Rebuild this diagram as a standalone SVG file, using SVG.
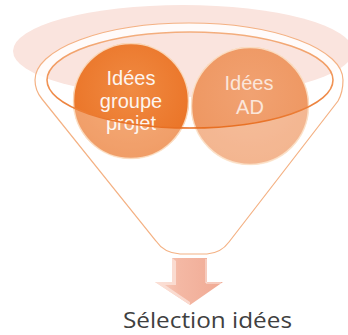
<svg xmlns="http://www.w3.org/2000/svg" width="348" height="335" viewBox="0 0 348 335">
  <defs>
    <radialGradient id="g1" cx="0.5" cy="0.4" r="0.6">
      <stop offset="0" stop-color="#F08A42"/>
      <stop offset="1" stop-color="#EA7326"/>
    </radialGradient>
    <radialGradient id="g2" cx="0.5" cy="0.4" r="0.6">
      <stop offset="0" stop-color="#F1A272"/>
      <stop offset="1" stop-color="#EE9660"/>
    </radialGradient>
    <linearGradient id="rimStroke" x1="0" y1="0" x2="0" y2="1">
      <stop offset="0" stop-color="#F3AE7E"/>
      <stop offset="0.6" stop-color="#F09050"/>
      <stop offset="1" stop-color="#E86F22"/>
    </linearGradient>
    <linearGradient id="arrowFill" x1="0" y1="0" x2="1" y2="0">
      <stop offset="0" stop-color="#F8D2C4"/>
      <stop offset="0.35" stop-color="#F4B8A4"/>
      <stop offset="1" stop-color="#F0AA94"/>
    </linearGradient>
    <style>
      .circle-text { font-family: "Liberation Sans", Arial, sans-serif; font-size: 20px; fill: #FFFFFF; text-anchor: middle; }
      .outline { fill: none; stroke: #F4B183; stroke-width: 1.2; }
      .glow { fill: none; stroke: #FDE8D2; stroke-width: 1.5; opacity: 0.8; }
      .label { font-family: "Open Sans", "Liberation Sans", sans-serif; font-size: 21px; fill: #404040; }
    </style>
  </defs>

  <!-- pale background ellipse -->
  <ellipse cx="183" cy="51" rx="170" ry="46" fill="#FAE4DE"/>

  <!-- funnel body behind circles (white, hides pink outside inner ellipse) -->
  <g id="funnel">
    <path fill="#FFFFFF" fill-opacity="0.85" fill-rule="evenodd"
      d="M35,80 C35,88 37,93 42,99 L156,241 Q164,253 180,254 L207,254 Q221,253 229,242 L338,101 C342,94 343,88 343,80 A154 57 0 0 0 35 80 Z
         M47,80 A143 48 0 0 1 333 80 A143 48 0 0 1 47 80 Z"/>
  </g>

  <g id="node-groupe-projet">
    <circle cx="131" cy="101" r="58" fill="url(#g1)"/>
  </g>
  <g id="node-ad">
    <circle cx="250" cy="106" r="59" fill="url(#g2)"/>
  </g>

  <!-- front translucent part of funnel over circles -->
  <path fill="#FFFFFF" fill-opacity="0.3"
    d="M35,80 C35,88 37,93 42,99 L156,241 Q164,253 180,254 L207,254 Q221,253 229,242 L338,101 C342,94 343,88 343,80 L333,80 A143 48 0 0 1 47 80 Z"/>

  <!-- circle edge highlights -->
  <circle class="glow" cx="131" cy="101" r="57.5"/>
  <circle class="glow" cx="250" cy="106" r="58.5"/>

  <!-- texts -->
  <g opacity="0.92">
    <text class="circle-text" x="131" y="85">Idées</text>
    <text class="circle-text" x="131" y="108">groupe</text>
    <text class="circle-text" x="131" y="130">projet</text>
  </g>
  <g opacity="0.75">
    <text class="circle-text" x="249" y="90">Idées</text>
    <text class="circle-text" x="250" y="114">AD</text>
  </g>

  <!-- funnel outlines -->
  <path class="outline" d="M35,80 C35,88 37,93 42,99 L156,241 Q164,253 180,254 L207,254 Q221,253 229,242 L338,101 C342,94 343,88 343,80 A154 57 0 0 0 35 80 Z"/>
  <ellipse cx="190" cy="80" rx="143" ry="48" fill="none" stroke="url(#rimStroke)" stroke-width="1.6"/>

  <g id="connectors">
    <path fill="url(#arrowFill)" d="M172,258 L207,258 L207,282 L223,282 L190,305 L155,282 L172,282 Z"/>
    <path fill="#FBE2DA" opacity="0.8" d="M172,258 L176,261 L176,285 L165,285 L190,302 L190,305 L155,282 L172,282 Z"/>
    <path fill="none" stroke="#FFFFFF" stroke-opacity="0.7" stroke-width="1" d="M206,259 L206,283 L221,283"/>
  </g>

  <g id="label">
    <text class="label" x="123" y="328" textLength="169" lengthAdjust="spacingAndGlyphs">Sélection idées</text>
  </g>
</svg>
